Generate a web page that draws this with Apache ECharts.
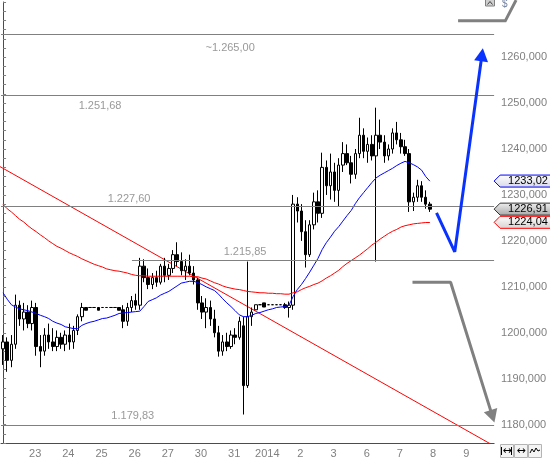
<!DOCTYPE html>
<html>
<head>
<meta charset="utf-8">
<script src="https://cdn.jsdelivr.net/npm/echarts@6/dist/echarts.min.js"></script>
<style>
  html, body { margin: 0; padding: 0; background: #fff; }
  #chart { width: 550px; height: 461px; }
</style>
</head>
<body>
<div id="chart"></div>
<script>
// days on the time axis and how many 3h bars each one holds
const days = ['22', '23', '24', '25', '26', '27', '30', '31', '2014', '2', '3', '6', '7', '8', '9', '10'];
const barsPerDay = [5, 8, 8, 8, 8, 8, 8, 8, 8, 8, 8, 8, 8, 8, 8, 2];

// price bars
const opens = [
  1196.5, 1198.0, 1194.0, 1197.5, 1206.0, 1203.0, 1204.5, 1202.0, 1205.5, 1197.0,
  1196.0, 1199.5, 1198.0, 1197.0, 1199.0, 1197.5, 1199.5, 1198.0, 1200.5, 1203.5,
  1205.5, 1205.5, 1205.5, 1205.5, 1205.5, 1205.5, 1205.5, 1205.5, 1205.5, 1205.0,
  1202.5, 1205.5, 1207.0, 1206.0, 1214.5, 1212.0, 1210.5, 1212.0, 1211.0, 1214.5,
  1212.5, 1214.0, 1217.0, 1215.5, 1213.5, 1214.5, 1213.0, 1211.5, 1206.5, 1204.5,
  1205.5, 1203.0, 1200.0, 1196.0, 1198.0, 1197.0, 1199.5, 1199.0, 1201.5, 1188.5,
  1203.5, 1205.0, 1206.1, 1206.5, 1206.1, 1206.1, 1206.1, 1206.1, 1206.1, 1205.5,
  1206.0, 1228.0, 1226.5, 1222.0, 1217.0, 1223.5, 1228.5, 1226.0, 1236.0, 1232.0,
  1235.0, 1231.0, 1236.5, 1239.0, 1237.0, 1234.5, 1239.0, 1243.0, 1239.5, 1241.0,
  1238.5, 1243.0, 1241.5, 1238.5, 1240.0, 1243.5, 1242.0, 1240.5, 1239.0, 1228.5,
  1229.5, 1232.0, 1229.5, 1228.0
];
const highs = [
  1199.5, 1199.0, 1199.5, 1208.3, 1207.0, 1206.5, 1206.0, 1207.0, 1206.5, 1199.5,
  1201.0, 1202.0, 1201.0, 1200.5, 1200.0, 1200.5, 1202.0, 1201.5, 1204.0, 1206.5,
  1205.6, 1205.5, 1205.5, 1205.5, 1205.5, 1205.5, 1205.5, 1205.5, 1205.5, 1206.0,
  1206.5, 1208.0, 1208.5, 1216.3, 1216.0, 1214.0, 1213.0, 1213.5, 1215.0, 1216.3,
  1215.0, 1218.0, 1219.7, 1217.5, 1216.0, 1217.0, 1214.5, 1212.0, 1208.0, 1207.5,
  1207.0, 1205.0, 1201.5, 1199.5, 1200.0, 1200.5, 1201.0, 1203.5, 1203.5, 1215.5,
  1205.5, 1206.1, 1206.1, 1206.5, 1206.1, 1206.1, 1206.1, 1206.1, 1206.5, 1206.8,
  1230.0, 1229.5, 1228.0, 1224.5, 1224.5, 1230.5, 1231.0, 1239.2, 1237.5, 1239.0,
  1237.0, 1238.0, 1241.5, 1241.0, 1238.5, 1240.0, 1246.8, 1244.5, 1242.5, 1243.0,
  1249.0, 1246.4, 1243.0, 1241.0, 1244.5, 1245.9, 1243.5, 1242.0, 1240.0, 1230.5,
  1233.3, 1233.0, 1231.0, 1228.5
];
const lows = [
  1193.0, 1191.5, 1192.5, 1196.5, 1201.5, 1200.5, 1201.0, 1200.5, 1195.0, 1192.5,
  1195.0, 1196.5, 1196.0, 1196.0, 1196.5, 1196.0, 1196.3, 1196.5, 1199.5, 1202.5,
  1204.9, 1205.5, 1205.5, 1204.9, 1205.5, 1205.5, 1205.5, 1205.5, 1204.9, 1201.0,
  1201.5, 1204.5, 1205.0, 1205.0, 1211.0, 1209.5, 1209.5, 1210.0, 1210.5, 1211.0,
  1211.5, 1213.0, 1214.5, 1212.5, 1211.5, 1212.5, 1210.5, 1205.0, 1203.0, 1201.0,
  1201.5, 1199.0, 1194.8, 1195.0, 1196.0, 1196.5, 1197.5, 1198.5, 1182.2, 1188.0,
  1201.5, 1205.0, 1206.1, 1205.6, 1206.1, 1206.1, 1206.1, 1206.1, 1205.2, 1203.3,
  1205.0, 1224.0, 1220.0, 1214.2, 1216.5, 1222.5, 1224.0, 1225.0, 1230.0, 1229.0,
  1228.5, 1227.4, 1235.0, 1236.5, 1232.5, 1233.5, 1238.0, 1238.0, 1237.0, 1237.5,
  1215.5, 1240.0, 1237.0, 1237.5, 1239.0, 1241.0, 1239.0, 1238.5, 1226.3, 1226.5,
  1228.5, 1228.5, 1227.0, 1226.3
];
const closes = [
  1198.0, 1194.0, 1197.5, 1206.0, 1203.0, 1204.5, 1202.0, 1205.5, 1197.0, 1196.0,
  1199.5, 1198.0, 1197.0, 1199.0, 1197.5, 1199.5, 1198.0, 1200.5, 1203.5, 1205.5,
  1204.9, 1205.5, 1205.5, 1204.9, 1205.5, 1205.5, 1205.5, 1205.5, 1204.9, 1202.5,
  1205.5, 1207.0, 1206.0, 1214.5, 1212.0, 1210.5, 1212.0, 1211.0, 1214.5, 1212.5,
  1214.0, 1217.0, 1215.5, 1213.5, 1214.5, 1213.0, 1211.5, 1206.5, 1204.5, 1205.5,
  1203.0, 1200.0, 1196.0, 1198.0, 1197.0, 1199.5, 1199.0, 1202.5, 1188.5, 1203.5,
  1204.5, 1206.1, 1206.1, 1205.6, 1206.1, 1206.1, 1206.1, 1206.1, 1205.5, 1206.0,
  1228.0, 1226.5, 1222.0, 1217.0, 1223.5, 1228.5, 1226.0, 1236.0, 1232.0, 1235.0,
  1231.0, 1236.5, 1239.0, 1237.0, 1234.5, 1239.0, 1243.0, 1239.5, 1241.0, 1238.5,
  1243.0, 1241.5, 1238.5, 1240.0, 1243.5, 1242.0, 1240.5, 1239.0, 1228.5, 1229.5,
  1232.0, 1229.5, 1228.0, 1226.9
];

// moving averages (blue = short, red = long)
const maFast = [
  1208.7, 1207.3, 1206.1, 1205.6, 1205.2, 1205.0, 1204.8, 1204.5, 1204.2, 1203.8,
  1203.5, 1203.1, 1202.5, 1202.1, 1201.8, 1201.3, 1201.1, 1200.9, 1200.9, 1201.6,
  1202.0, 1202.3, 1202.5, 1202.8, 1203.1, 1203.2, 1203.5, 1203.8, 1204.2, 1204.3,
  1204.4, 1204.5, 1204.6, 1204.7, 1205.7, 1206.8, 1207.2, 1207.6, 1208.2, 1208.6,
  1209.0, 1209.6, 1210.2, 1210.8, 1211.0, 1211.2, 1211.2, 1210.9, 1210.5, 1210.0,
  1209.6, 1209.2, 1208.4, 1207.4, 1206.5, 1205.7, 1204.8, 1203.9, 1203.5, 1203.5,
  1203.8, 1204.2, 1204.4, 1204.7, 1205.0, 1205.2, 1205.5, 1205.6, 1205.7, 1206.0,
  1207.9, 1209.4, 1210.5, 1211.8, 1213.2, 1214.7, 1216.2, 1218.1, 1219.6, 1220.8,
  1222.1, 1223.1, 1224.3, 1225.5, 1226.6, 1228.1, 1229.4, 1230.5, 1231.6, 1232.7,
  1233.7, 1234.3, 1234.8, 1235.3, 1235.8, 1236.4, 1236.9, 1237.3, 1237.0, 1236.6,
  1236.1, 1235.4, 1234.0, 1233.0
];
const maSlow = [
  1227.9, 1227.0, 1226.3, 1225.5, 1224.7, 1224.1, 1223.3, 1222.6, 1222.0, 1221.3,
  1220.7, 1220.0, 1219.4, 1218.8, 1218.4, 1217.9, 1217.4, 1217.0, 1216.6, 1216.1,
  1215.7, 1215.3, 1214.9, 1214.6, 1214.3, 1213.9, 1213.7, 1213.5, 1213.4, 1213.2,
  1213.0, 1212.7, 1212.5, 1212.4, 1212.4, 1212.3, 1212.3, 1212.3, 1212.3, 1212.3,
  1212.3, 1212.3, 1212.3, 1212.3, 1212.3, 1212.3, 1212.2, 1212.2, 1211.9, 1211.7,
  1211.3, 1210.9, 1210.6, 1210.2, 1209.9, 1209.7, 1209.5, 1209.4, 1209.2, 1209.0,
  1208.9, 1208.8, 1208.7, 1208.7, 1208.6, 1208.6, 1208.5, 1208.5, 1208.4, 1208.4,
  1208.7, 1208.9, 1209.4, 1209.8, 1210.1, 1210.5, 1210.8, 1211.3, 1211.9, 1212.4,
  1213.0, 1213.6, 1214.4, 1215.1, 1215.7, 1216.3, 1216.9, 1217.6, 1218.3, 1219.1,
  1219.7, 1220.4, 1221.0, 1221.6, 1222.1, 1222.5, 1223.0, 1223.3, 1223.5, 1223.7,
  1223.8, 1223.9, 1224.0, 1224.0
];

// drawn objects, x in bar units
const trendLine = [[-1, 1236.3], [119, 1175.1]];
const levels = [1265, 1251.68, 1227.60, 1215.85, 1179.83];
const levelTexts = ['~1.265,00', '1.251,68', '1.227,60', '1.215,85', '1.179,83'];
const upArrow = [[104.6, 1226.1], [109.0, 1217.6], [115.55, 1260.4]];
const downArrow = [[98.8, 1211.0], [108.0, 1211.0], [118.07, 1181.9]];
const topStroke = [[109.8, 1267.9], [121.2, 1267.9], [123.8, 1272.4]];
const tagValues = [1233.02, 1226.91, 1224.04];

// layout of the level captions
const levelLabelX = [54.8, 23.4, 30.4, 58.4, 31.3];
const levelLabelDy = [13.5, 10.6, -7, -8.3, -9.4];
const partialLevelStart = 31.1;

const categories = [];
const dayStarts = [];
days.forEach((d, k) => {
  dayStarts.push(categories.length);
  for (let j = 0; j < barsPerDay[k]; j++) categories.push(d + '|' + j);
});
const labelIdx = {};
days.forEach((d, k) => { if (barsPerDay[k] === 8) labelIdx[dayStarts[k] + 3] = true; });
const tickIdx = {};
dayStarts.forEach((s, k) => { if (s > 0 && k < days.length - 1) tickIdx[s] = true; });

const candles = opens.map((o, i) => [o, closes[i], lows[i], highs[i]]);
const nCat = categories.length;

const GRAY = '#808080';
const BLUE = '#0a32ff';
const FONT = 'Liberation Sans, Arial, sans-serif';

const chart = echarts.init(document.getElementById('chart'));

const option = {
  animation: false,
  backgroundColor: '#fff',
  grid: { left: 1, top: 2, width: 497, height: 441 },
  xAxis: [
    {
      type: 'category',
      data: categories,
      boundaryGap: true,
      axisLine: { lineStyle: { color: '#ff0000', width: 1 } },
      axisTick: {
        interval: (i) => !!tickIdx[i],
        length: 4,
        lineStyle: { color: GRAY }
      },
      axisLabel: {
        interval: (i) => !!labelIdx[i],
        formatter: (v) => v.split('|')[0],
        color: GRAY,
        fontSize: 11,
        fontFamily: FONT,
        margin: 5,
        padding: [0, 2, 0, 0]
      },
      splitLine: { show: false }
    },
    {
      type: 'value',
      min: -0.5,
      max: nCat - 0.5,
      show: false
    }
  ],
  yAxis: {
    type: 'value',
    position: 'right',
    min: 1176,
    max: 1272,
    interval: 2,
    axisLine: { show: true, lineStyle: { color: '#ff0000', width: 1 } },
    axisTick: { show: true, length: 3, lineStyle: { color: GRAY } },
    axisLabel: {
      color: GRAY,
      fontSize: 11,
      fontFamily: FONT,
      margin: 7,
      formatter: (v) => {
        const r = Math.round(v);
        if (Math.abs(v - r) > 1e-6 || r % 10 !== 0 || r > 1265) return '';
        return r.toFixed(3).replace('.', ',');
      }
    },
    splitLine: { show: false }
  },
  series: [
    {
      type: 'candlestick',
      xAxisIndex: 0,
      data: candles,
      barWidth: 3,
      itemStyle: {
        color: '#ffffff',
        color0: '#000000',
        borderColor: '#000000',
        borderColor0: '#000000',
        borderWidth: 1
      },
      z: 3
    },
    {
      type: 'line',
      xAxisIndex: 0,
      data: maFast,
      symbol: 'none',
      lineStyle: { color: '#0000ff', width: 1 },
      z: 4
    },
    {
      type: 'line',
      xAxisIndex: 0,
      data: maSlow,
      symbol: 'none',
      lineStyle: { color: '#ff0000', width: 1 },
      z: 4
    },
    {
      type: 'line',
      xAxisIndex: 1,
      data: trendLine,
      symbol: 'none',
      clip: true,
      lineStyle: { color: '#ff0000', width: 1 },
      z: 2,
      markLine: {
        silent: true,
        symbol: 'none',
        label: { show: false },
        lineStyle: { color: GRAY, width: 1, type: 'solid' },
        data: levels.map((v, k) =>
          k === 3
            ? [{ coord: [partialLevelStart, v] }, { coord: [nCat - 0.51, v] }]
            : { yAxis: v }
        )
      }
    },
    {
      type: 'scatter',
      xAxisIndex: 1,
      symbolSize: 1,
      itemStyle: { color: 'rgba(0,0,0,0)' },
      silent: true,
      data: levels.map((v, k) => ({
        value: [levelLabelX[k], v],
        label: {
          show: true,
          position: 'inside',
          offset: [0, levelLabelDy[k]],
          formatter: levelTexts[k],
          color: GRAY,
          fontSize: 11,
          fontFamily: FONT
        }
      })),
      z: 5
    },
    {
      type: 'line',
      xAxisIndex: 1,
      data: upArrow,
      symbol: 'none',
      lineStyle: { color: BLUE, width: 3 },
      z: 6
    },
    {
      type: 'line',
      xAxisIndex: 1,
      data: downArrow,
      symbol: 'none',
      lineStyle: { color: GRAY, width: 3 },
      z: 6
    }
  ]
};

chart.setOption(option);

const toPx = (p) => chart.convertToPixel({ xAxisIndex: 1, yAxisIndex: 0 }, p);

// arrow heads at the end of the drawn arrows
function arrowHead(pts, color) {
  const a = toPx(pts[pts.length - 2]);
  const b = toPx(pts[pts.length - 1]);
  const dx = b[0] - a[0], dy = b[1] - a[1];
  const len = Math.sqrt(dx * dx + dy * dy);
  const ux = dx / len, uy = dy / len;
  const tip = [b[0] + ux * 7, b[1] + uy * 7];
  const base = [b[0] - ux * 6, b[1] - uy * 6];
  return {
    type: 'polygon',
    z: 100,
    shape: { points: [tip, [base[0] - uy * 7, base[1] + ux * 7], [base[0] + uy * 7, base[1] - ux * 7]] },
    style: { fill: color }
  };
}

const graphics = [];
graphics.push(arrowHead(upArrow, BLUE));
graphics.push(arrowHead(downArrow, GRAY));
graphics.push({
  type: 'polyline',
  z: 100,
  shape: { points: topStroke.map(toPx) },
  style: { stroke: GRAY, lineWidth: 3, fill: null }
});

// price tags on the right axis
const tagColors = ['#0000ff', '#303030', '#ff0000'];
const tagFills = [
  ['#ffffff', '#d8d8e8'],
  ['#f0f0f0', '#a8a8a8'],
  ['#ffffff', '#d8d0d0']
];
const axisX = chart.convertToPixel({ xAxisIndex: 1 }, nCat - 0.5);
tagValues.forEach((v, k) => {
  const y = chart.convertToPixel({ yAxisIndex: 0 }, v);
  graphics.push({
    type: 'polygon',
    z: 100,
    shape: { points: [[axisX, y], [axisX + 6, y - 6], [552, y - 6], [552, y + 6], [axisX + 6, y + 6]] },
    style: {
      fill: new echarts.graphic.LinearGradient(0, 0, 0, 1, [
        { offset: 0, color: tagFills[k][0] },
        { offset: 1, color: tagFills[k][1] }
      ]),
      stroke: tagColors[k],
      lineWidth: 1
    }
  });
  graphics.push({
    type: 'text',
    z: 101,
    x: axisX + 14,
    y: y,
    style: {
      text: v.toFixed(2).replace('.', ','),
      font: '11px ' + FONT,
      fill: '#000',
      verticalAlign: 'middle'
    }
  });
});

// small chart controls
graphics.push({ type: 'rect', z: 100, shape: { x: 485.5, y: -1, width: 9, height: 7 }, style: { fill: '#cfcfcf', stroke: GRAY } });
graphics.push({ type: 'polyline', z: 101, shape: { points: [[487.5, 4.5], [490, 1.5], [492.5, 4.5]] }, style: { stroke: '#404040', lineWidth: 1, fill: null } });
graphics.push({ type: 'text', z: 101, x: 502, y: -1, style: { text: '$', font: '10px ' + FONT, fill: '#7080a0' } });
[500, 514, 528].forEach((bx, k) => {
  graphics.push({ type: 'rect', z: 100, shape: { x: bx + 0.5, y: 444.5, width: 13, height: 13 }, style: { fill: '#f4f4f4', stroke: '#b4b4b4' } });
  if (k < 2) {
    graphics.push({ type: 'text', z: 101, x: bx + 7, y: 451, style: { text: '\u2194', font: '11px DejaVu Sans', fill: '#000', align: 'center', verticalAlign: 'middle' } });
  } else {
    graphics.push({ type: 'polyline', z: 101, shape: { points: [[bx + 2, 453], [bx + 4, 449], [bx + 6, 452], [bx + 8, 448], [bx + 10, 451], [bx + 12, 450]] }, style: { stroke: '#000', lineWidth: 1, fill: null } });
  }
});
graphics.push({ type: 'line', z: 101, shape: { x1: 501.5, y1: 447, x2: 501.5, y2: 455 }, style: { stroke: '#000' } });
graphics.push({ type: 'line', z: 101, shape: { x1: 511.5, y1: 447, x2: 511.5, y2: 455 }, style: { stroke: '#000' } });

chart.setOption({ graphic: graphics });

window.addEventListener('resize', () => chart.resize());
</script>
</body>
</html>
